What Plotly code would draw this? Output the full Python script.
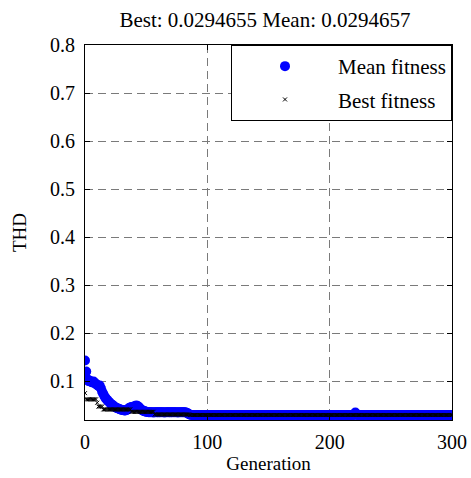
import plotly.graph_objects as go

# Genetic algorithm convergence: THD per generation
generation = list(range(301))

mean_head = [
    0.143, 0.120, 0.104, 0.100, 0.101, 0.098, 0.097, 0.099, 0.096, 0.094,
    0.092, 0.090, 0.091, 0.085, 0.078, 0.073, 0.068, 0.064, 0.061, 0.058,
    0.056, 0.053, 0.051, 0.049, 0.047, 0.045, 0.044, 0.043, 0.042, 0.041,
    0.040, 0.040, 0.039, 0.039, 0.040, 0.041, 0.044, 0.045, 0.046, 0.046,
    0.047, 0.048, 0.049, 0.048, 0.046, 0.043, 0.041, 0.039, 0.038, 0.037,
    0.036, 0.0355, 0.035, 0.035, 0.0352, 0.035, 0.0348, 0.035, 0.0351, 0.035,
    0.0349, 0.035, 0.035, 0.0352, 0.035, 0.0348, 0.035, 0.035, 0.0351, 0.035,
    0.0349, 0.035, 0.035, 0.0352, 0.035, 0.035, 0.0348, 0.035, 0.035, 0.0351,
    0.035, 0.0349, 0.035, 0.034, 0.033, 0.031, 0.0300, 0.02950, 0.02948, 0.02947,
]
mean_tail = [0.0294657] * 131 + [0.0345] + [0.0294657] * 79

best_head = [0.075] + [0.062] * 9 + [0.055] + [0.047] * 4
best_mid = [0.041] * 23 + [0.036] * 19 + [0.0305] * 29
best_tail = [0.0294655] * 215

mean_fitness = mean_head + mean_tail
best_fitness = best_head + best_mid + best_tail

title_text = "Best: 0.0294655 Mean: 0.0294657"
x_ticks = [0, 100, 200, 300]
y_ticks = [0.1, 0.2, 0.3, 0.4, 0.5, 0.6, 0.7, 0.8]

serif = "Liberation Serif, Times New Roman, serif"

fig = go.Figure()
fig.add_trace(go.Scatter(
    x=generation, y=mean_fitness, mode="markers", name="Mean fitness",
    legendgroup="mean",
    marker=dict(color="#0000ff", size=10, line=dict(width=0)),
))
fig.add_trace(go.Scatter(
    x=generation, y=best_fitness, mode="markers", name="Best fitness",
    legendgroup="best",
    marker=dict(color="black", size=4, symbol="x-thin",
                line=dict(width=1, color="black")),
))

axis_common = dict(
    showline=True, linecolor="black", linewidth=1, mirror="ticks",
    ticks="inside", ticklen=5, tickcolor="black", automargin=False,
    showgrid=True, gridcolor="#7a7a7a", gridwidth=1, griddash="8px,5px",
    zeroline=False, tickfont=dict(family=serif, size=20, color="black"),
)

fig.update_xaxes(range=[0, 300], tickvals=x_ticks, ticklabelstandoff=4,
                 title=dict(text="Generation", font=dict(family=serif, size=19, color="black"), standoff=4),
                 **axis_common)
fig.update_yaxes(range=[0.019, 0.8], tickvals=y_ticks, ticklabelstandoff=5,
                 title=dict(text="THD", font=dict(family=serif, size=19, color="black"), standoff=18),
                 **axis_common)

fig.update_layout(
    width=471, height=478,
    margin=dict(l=85, r=19, t=45, b=58),
    paper_bgcolor="white", plot_bgcolor="white",
    title=dict(text=title_text, x=0.5626, xanchor="center", y=0.958, yanchor="middle",
               font=dict(family=serif, size=21, color="black")),
    legend=dict(x=1, y=1, xanchor="right", yanchor="top",
                bgcolor="white", bordercolor="black", borderwidth=1,
                font=dict(family=serif, size=21, color="black"),
                itemwidth=96, tracegroupgap=3),
    showlegend=True,
)

fig.write_html("out.html")
